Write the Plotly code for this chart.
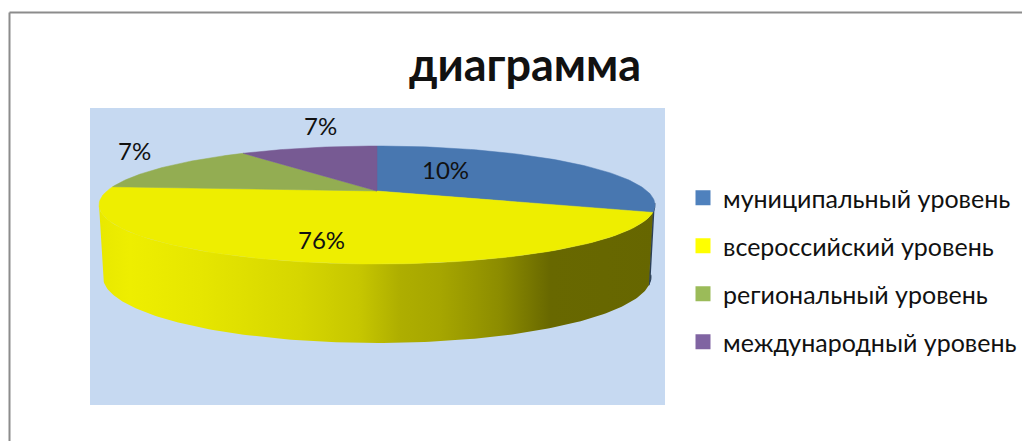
import numpy as np
import plotly.graph_objects as go

# --- data ---
categories = ["муниципальный уровень", "всероссийский уровень", "региональный уровень", "международный уровень"]
label_texts = ["10%", "76%", "7%", "7%"]          # printed labels
drawn_shares = [27, 53, 12, 8]                    # share of the rim each slice occupies as drawn
face_colors = ["#4877b0", "#eeee00", "#93ad52", "#775a93"]
legend_colors = ["#4f81bd", "#ffff00", "#9bbb59", "#8064a2"]

# --- styling / layout constants (axes in page pixels; the page body has an 8 px margin) ---
W, H = 1030, 441
M = 8
TOP = dict(cx=377, cy=205, rx=278, ry=59)
BOT = dict(cx=377, cy=277, rx=274, ry=66)
VERTEX = (377, 191)
FONT = "Lato, Carlito, Calibri, 'Open Sans', sans-serif"
STOP_X = [98, 130, 200, 300, 360, 400, 440, 500, 550, 660]
STOP_V = [232, 238, 230, 214, 198, 174, 166, 140, 104, 102]


def rim(e, t):
    t = np.radians(t)
    return e["cx"] + e["rx"] * np.sin(t), e["cy"] - e["ry"] * np.cos(t)


fig = go.Figure()

angles = np.cumsum([0] + drawn_shares) * 3.6

# dark sliver of the blue slice's side
blue_t = np.linspace(88, angles[1], 5)
fig.add_trace(go.Scatter(
    x=np.r_[rim(TOP, blue_t)[0], rim(BOT, blue_t[::-1])[0]],
    y=np.r_[rim(TOP, blue_t)[1], rim(BOT, blue_t[::-1])[1]],
    mode="lines", fill="toself", fillcolor="#2c4058",
    line=dict(color="#2c4058", width=1), showlegend=False, hoverinfo="skip"))

# side wall of the yellow slice with a horizontal gradient
side_t = np.linspace(angles[1], 270, 160)
xt, yt = rim(TOP, side_t)
xb, yb = rim(BOT, side_t[::-1])
x0, x1 = STOP_X[0], STOP_X[-1]
fig.add_trace(go.Scatter(
    x=np.r_[xt, xb], y=np.r_[yt, yb], mode="lines", fill="toself",
    line=dict(width=0),
    fillgradient=dict(
        type="horizontal", start=x0, stop=x1,
        colorscale=[[(x - x0) / (x1 - x0), f"rgb({v},{v},0)"] for x, v in zip(STOP_X, STOP_V)]),
    showlegend=False, hoverinfo="skip"))

# top faces
for i, col in enumerate(face_colors):
    t = np.linspace(angles[i], angles[i + 1], 90)
    x, y = rim(TOP, t)
    fig.add_trace(go.Scatter(
        x=np.r_[VERTEX[0], x, VERTEX[0]], y=np.r_[VERTEX[1], y, VERTEX[1]],
        mode="lines", fill="toself", fillcolor=col, line=dict(color=col, width=0.5),
        showlegend=False, hoverinfo="skip"))

# legend entries
for i, (name, col) in enumerate(zip(categories, legend_colors)):
    fig.add_trace(go.Scatter(
        x=[None], y=[None], mode="markers", name=name, legendgroup=name,
        marker=dict(symbol="square", size=15, color=col)))

label_pos = [(445, 169), (321, 239), (134, 150), (320, 125)]
annotations = [
    dict(x=p[0], y=p[1], text=s, showarrow=False, xref="x", yref="y",
         font=dict(family=FONT, size=24, color="#111111"))
    for p, s in zip(label_pos, label_texts)
]

fig.update_layout(
    width=W - M, height=H - M, margin=dict(l=0, r=0, t=0, b=0), autosize=False,
    paper_bgcolor="white", plot_bgcolor="white",
    xaxis=dict(range=[M, W], visible=False, fixedrange=True),
    yaxis=dict(range=[H, M], visible=False, fixedrange=True),
    title=dict(text="<b>диаграмма</b>", x=(525 - M) / (W - M), xanchor="center",
               y=1 - (65 - M) / (H - M), yanchor="middle",
               font=dict(family=FONT, size=45, color="#111111")),
    shapes=[
        dict(type="rect", xref="x", yref="y", x0=90, x1=665, y0=108, y1=405,
             fillcolor="#c6d9f1", line=dict(width=0), layer="below"),
        dict(type="line", xref="x", yref="y", x0=9.5, x1=9.5, y0=12.5, y1=H,
             line=dict(color="#8c8c8c", width=2)),
        dict(type="line", xref="x", yref="y", x0=9.5, x1=W, y0=12.5, y1=12.5,
             line=dict(color="#8c8c8c", width=2)),
    ],
    annotations=annotations,
    legend=dict(x=(683 - M) / (W - M), xanchor="left", y=1 - (175 - M) / (H - M), yanchor="top",
                bgcolor="rgba(0,0,0,0)",
                font=dict(family=FONT, size=25, color="#111111"), tracegroupgap=12.5,
                itemwidth=30, traceorder="grouped"),
)

fig.write_html("out.html")
